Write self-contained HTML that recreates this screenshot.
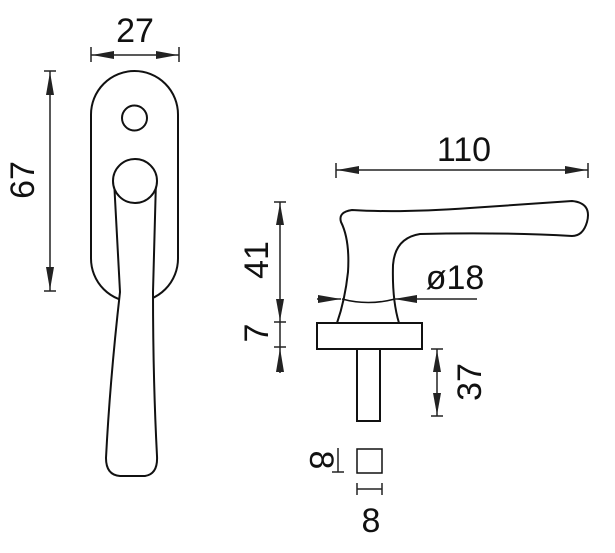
<!DOCTYPE html>
<html><head><style>html,body{margin:0;padding:0;background:#fff}svg{display:block}</style></head>
<body>
<svg width="615" height="553" viewBox="0 0 615 553" xmlns="http://www.w3.org/2000/svg">
<g fill="none" stroke="#111" stroke-width="2">
<!-- left view -->
<rect x="91" y="71" width="87" height="231" rx="43.5" ry="43.5" fill="#fff"/>
<circle cx="134.5" cy="118" r="12.5"/>
<path d="M114,180 L120,292 Q110,380 106,458 Q106,475 120,476 L145,476 Q158,474 157,456 Q153,380 153,292 L156,180" fill="#fff"/>
<circle cx="135" cy="181" r="22" fill="#fff"/>
<!-- right view handle -->
<path d="M337,323 Q345,300 348,272 Q350,240 341,222 Q338,212 352,210 Q400,213 470,208 Q540,203 572,201 Q592,203 587,222 Q583,236 572,236 Q500,232 420,234 Q395,238 393,265 Q392,300 399,323"/>
<path d="M342,299 Q368,306 395,299" stroke-width="1.5"/>
<rect x="317" y="323" width="105" height="26"/>
<rect x="357" y="349" width="23" height="72"/>
<rect x="357" y="449" width="25" height="24" stroke-width="1.5"/>
</g>
<g fill="none" stroke="#222" stroke-width="1.5">
<!-- 27 -->
<line x1="91" y1="55" x2="179" y2="55"/>
<line x1="91" y1="47" x2="91" y2="62"/>
<line x1="179" y1="47" x2="179" y2="62"/>
<!-- 67 -->
<line x1="50" y1="71" x2="50" y2="291"/>
<line x1="44" y1="71" x2="56" y2="71"/>
<line x1="44" y1="291" x2="56" y2="291"/>
<!-- 110 -->
<line x1="336" y1="170" x2="588" y2="170"/>
<line x1="336" y1="163" x2="336" y2="178"/>
<line x1="588" y1="163" x2="588" y2="178"/>
<!-- 41/7 -->
<line x1="280" y1="202" x2="280" y2="373"/>
<line x1="274" y1="202" x2="286" y2="202"/>
<line x1="274" y1="322" x2="286" y2="322"/>
<line x1="274" y1="347" x2="286" y2="347"/>
<!-- ø18 -->
<line x1="317" y1="299" x2="341" y2="299"/>
<line x1="394" y1="299" x2="477" y2="299"/>
<!-- 37 -->
<line x1="437" y1="349" x2="437" y2="416"/>
<line x1="431" y1="349" x2="443" y2="349"/>
<line x1="431" y1="416" x2="443" y2="416"/>
<!-- 8 -->
<line x1="338" y1="448" x2="338" y2="472"/>
<line x1="332" y1="472" x2="344" y2="472"/>
<line x1="357" y1="489" x2="382" y2="489"/>
<line x1="357" y1="483" x2="357" y2="495"/>
<line x1="382" y1="483" x2="382" y2="495"/>
</g>
<g fill="#222" stroke="none">
<!-- 27 arrows -->
<path d="M92,55 L114,51 L114,59 z"/>
<path d="M178,55 L156,51 L156,59 z"/>
<!-- 67 -->
<path d="M50,72 L46,95 L54,95 z"/>
<path d="M50,290 L46,267 L54,267 z"/>
<!-- 110 -->
<path d="M337,170 L359,166 L359,174 z"/>
<path d="M587,170 L565,166 L565,174 z"/>
<!-- 41 -->
<path d="M280,203 L276,225 L284,225 z"/>
<path d="M280,321 L276,299 L284,299 z"/>
<!-- 7 -->
<path d="M280,348 L276,372 L284,372 z"/>
<!-- ø18 -->
<path d="M341,299 L318,295 L318,303 z"/>
<path d="M394,299 L417,295 L417,303 z"/>
<!-- 37 -->
<path d="M437,350 L433,372 L441,372 z"/>
<path d="M437,415 L433,393 L441,393 z"/>
</g>
<g font-family="'Liberation Sans', sans-serif" font-size="34" fill="#111" text-anchor="middle">
<text x="135" y="42">27</text>
<text transform="translate(34,180) rotate(-90)">67</text>
<text x="464" y="161">110</text>
<text transform="translate(268,260) rotate(-90)">41</text>
<text transform="translate(268,333) rotate(-90)">7</text>
<text x="455" y="289">ø18</text>
<text transform="translate(481,382) rotate(-90)">37</text>
<text transform="translate(310,460) rotate(90)">8</text>
<text x="371" y="532">8</text>
</g>
</svg>
</body></html>
